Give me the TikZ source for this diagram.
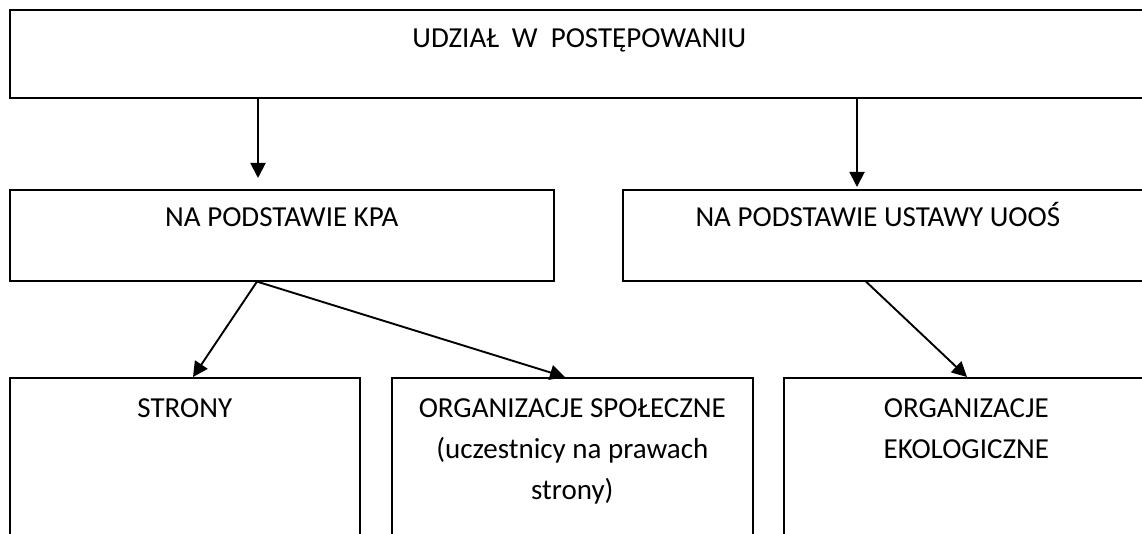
\documentclass[tikz,border=0pt]{standalone}
\usepackage{fontspec}
\setmainfont{Carlito}
\usetikzlibrary{arrows.meta}
\usetikzlibrary{positioning}
\tikzset{box/.style={draw, rectangle, line width=1.6pt, anchor=north west, inner sep=0pt}}
\tikzset{line/.style={draw, -{Triangle[length=15pt,width=15pt]}, line width=1.9pt}}
\tikzset{txt/.style={align=center, inner sep=0pt, anchor=base, font=\fontsize{29}{41}\selectfont}}

\begin{document}
\begin{tikzpicture}[x=1pt, y=-1pt]
	\clip (0,0) rectangle (1142,534);
	%% Boxes
	\node [box, minimum width=1139pt, minimum height=88pt] (udzial) at (9,9) {};
	\node [box, minimum width=544pt, minimum height=91pt] (kpa) at (9,189) {};
	\node [box, minimum width=526pt, minimum height=91pt] (uoos) at (622,189) {};
	\node [box, minimum width=350pt, minimum height=200pt] (strony) at (9,377) {};
	\node [box, minimum width=361pt, minimum height=200pt] (spoleczne) at (391,377) {};
	\node [box, minimum width=365pt, minimum height=200pt] (eko) at (783,377) {};
	%% Texts (base = last line)
	\node [txt] (udzialT) at ([yshift=-39pt]udzial.north) {UDZIAŁ\ \ W\ \ POSTĘPOWANIU};
	\node [txt] (kpaT) at ([yshift=-38pt]kpa.north) {NA PODSTAWIE KPA};
	\node [txt] (uoosT) at ([yshift=-38pt,xshift=-8pt]uoos.north) {NA PODSTAWIE USTAWY UOOŚ};
	\node [txt] (stronyT) at ([yshift=-40pt]strony.north) {STRONY};
	\node [txt] (spoleczneT) at ([yshift=-122pt]spoleczne.north) {ORGANIZACJE SPOŁECZNE\\(uczestnicy na prawach\\strony)};
	\node [txt] (ekoT) at ([yshift=-81pt]eko.north) {ORGANIZACJE\\EKOLOGICZNE};
	%% Flows
	\path [line, shorten >=11pt] ([xshift=249pt]udzial.south west) -- ([xshift=249pt]kpa.north west);
	\path [line, shorten >=2pt] ([xshift=848pt]udzial.south west) -- ([xshift=235pt]uoos.north west);
	\path [line] ([xshift=248pt]kpa.south west) -- ([xshift=184pt]strony.north west);
	\path [line] ([xshift=248pt]kpa.south west) -- ([xshift=174pt]spoleczne.north west);
	\path [line] ([xshift=244pt]uoos.south west) -- ([xshift=184pt]eko.north west);
\end{tikzpicture}
\end{document}
